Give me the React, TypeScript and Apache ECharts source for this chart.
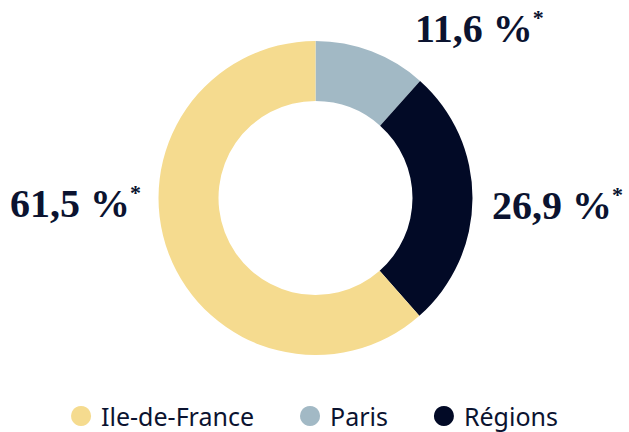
import React, { useEffect, useRef } from "react";
import * as echarts from "echarts";

const categories = ["Paris", "Régions", "Ile-de-France"];
const values = [11.6, 26.9, 61.5];
const colors = ["#A2B9C5", "#020A26", "#F5DB8F"];
const legendOrder = ["Ile-de-France", "Paris", "Régions"];

const labelSpots: Record<number, { x: number; y: number }> = {
  0: { x: 415, y: 28 },
  1: { x: 492, y: 205 },
  2: { x: 10, y: 203 },
};

export default function App() {
  const ref = useRef<HTMLDivElement>(null);
  useEffect(() => {
    document.body.style.margin = "0";
    const chart = echarts.init(ref.current!, undefined, { renderer: "svg" });
    chart.setOption({
      animation: false,
      legend: {
        data: legendOrder,
        top: 403,
        left: "center",
        padding: 0,
        icon: "circle",
        itemWidth: 20,
        itemHeight: 20,
        itemGap: 46,
        textStyle: {
          fontFamily: "Noto Sans",
          fontSize: 25,
          lineHeight: 26,
          color: "#0B1330",
          padding: [0, 0, 0, 5],
        },
      },
      series: [
        {
          type: "pie",
          center: [315.5, 198],
          radius: [97, 157],
          startAngle: 90,
          clockwise: true,
          data: categories.map((c, i) => ({
            name: c,
            value: values[i],
            itemStyle: { color: colors[i] },
          })),
          label: {
            show: true,
            position: "outside",
            overflow: "none",
            alignTo: "none",
            formatter: (p: any) =>
              `{v|${String(p.value).replace(".", ",")} %}{s|*}`,
            rich: {
              v: {
                fontFamily: "Liberation Serif",
                fontWeight: "bold",
                fontSize: 40,
                color: "#0B1330",
                lineHeight: 44,
              },
              s: {
                fontFamily: "Liberation Serif",
                fontWeight: "bold",
                fontSize: 22,
                color: "#0B1330",
                verticalAlign: "top",
                lineHeight: 44,
              },
            },
          },
          labelLine: { show: false },
          labelLayout: (params: any) => {
            const s = labelSpots[params.dataIndex];
            return { x: s.x, y: s.y, align: "left", verticalAlign: "middle" };
          },
          emphasis: { disabled: true },
        },
      ],
    });
    return () => chart.dispose();
  }, []);
  return <div ref={ref} style={{ width: 629, height: 432 }} />;
}
